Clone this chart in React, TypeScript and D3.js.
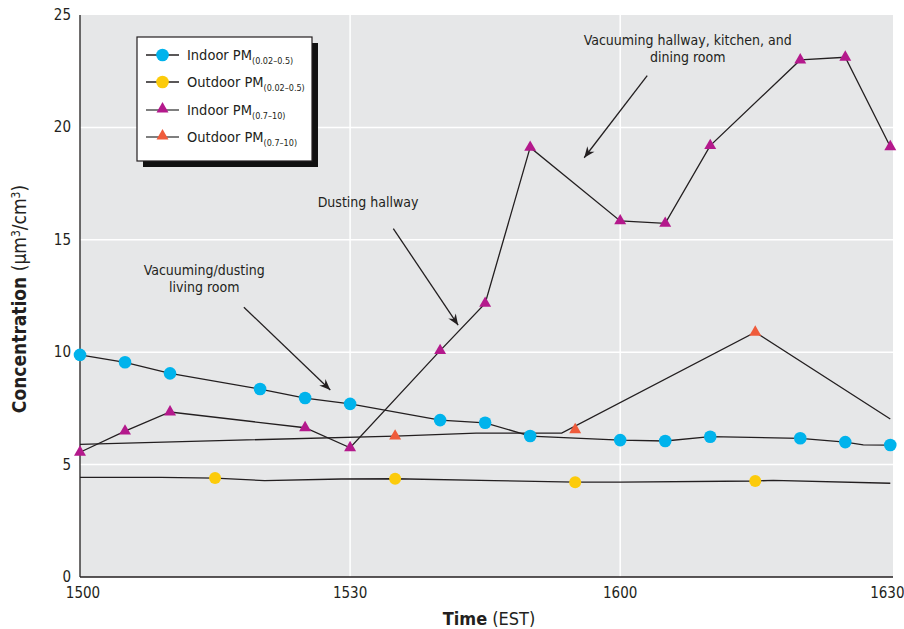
import React from 'react';
import * as d3 from 'd3';

// ---- Data ----
const xTickValues = [0, 30, 60, 90];
const xTickLabels = ['1500', '1530', '1600', '1630'];
const yTickValues = [0, 5, 10, 15, 20, 25];
const xGridValues = [30, 60];
const yGridValues = [5, 10, 15, 20];

// Indoor PM (0.02-0.5) — blue circles
const inFineMarkT = [0, 5, 10, 20, 25, 30, 40, 45, 50, 60, 65, 70, 80, 85, 90];
const inFineMarkV = [9.88, 9.55, 9.06, 8.36, 7.96, 7.7, 6.98, 6.86, 6.27, 6.09, 6.05, 6.24, 6.17, 6.0, 5.87];
const inFineLineT = [0, 5, 10, 20, 25, 30, 40, 45, 50, 60, 65, 70, 80, 85, 87, 90];
const inFineLineV = [9.88, 9.55, 9.06, 8.36, 7.96, 7.7, 6.98, 6.86, 6.27, 6.09, 6.05, 6.24, 6.17, 6.0, 5.88, 5.87];

// Outdoor PM (0.02-0.5) — yellow circles
const outFineMarkT = [15, 35, 55, 75];
const outFineMarkV = [4.4, 4.37, 4.22, 4.27];
const outFineLineT = [0, 9, 15, 20.5, 29, 35, 46, 55, 60, 75, 77, 90];
const outFineLineV = [4.43, 4.43, 4.4, 4.29, 4.36, 4.37, 4.29, 4.22, 4.22, 4.27, 4.3, 4.17];

// Indoor PM (0.7-10) — magenta triangles
const inCoarseT = [0, 5, 10, 25, 30, 40, 45, 50, 60, 65, 70, 80, 85, 90];
const inCoarseV = [5.55, 6.49, 7.34, 6.64, 5.75, 10.07, 12.17, 19.11, 15.84, 15.73, 19.19, 23.0, 23.12, 19.14];

// Outdoor PM (0.7-10) — orange triangles
const outCoarseMarkT = [35, 55, 75];
const outCoarseMarkV = [6.27, 6.55, 10.89];
const outCoarseLineT = [0, 35, 44, 53.5, 75, 90];
const outCoarseLineV = [5.9, 6.27, 6.4, 6.4, 10.89, 7.03];

const legendLabels = ['Indoor PM', 'Outdoor PM', 'Indoor PM', 'Outdoor PM'];
const legendSubs = ['(0.02\u20130.5)', '(0.02\u20130.5)', '(0.7\u201310)', '(0.7\u201310)'];

const annotations = [
  { lines: ['Vacuuming hallway, kitchen, and', 'dining room'], t: 67.5, v: 23.65, from: [63, 22.3], to: [56, 18.65] },
  { lines: ['Dusting hallway'], t: 32, v: 16.45, from: [34.8, 15.5], to: [42, 11.2] },
  { lines: ['Vacuuming/dusting', 'living room'], t: 13.8, v: 13.45, from: [18.2, 12.0], to: [27.8, 8.32] },
];

// ---- Style ----
const W = 904;
const H = 629;
const BLUE = '#00b3ec';
const YELLOW = '#fccb0b';
const MAGENTA = '#b4198c';
const ORANGE = '#ef5b3b';
const BG = '#e6e7e8';
const INK = '#231f20';
const FONT = "'Liberation Sans Narrow', 'Arial Narrow', 'DejaVu Sans Condensed', 'Liberation Sans', sans-serif";

export default function App() {
  const x = d3.scaleLinear().domain([0, 90.3]).range([80, 893]);
  const y = d3.scaleLinear().domain([0, 25]).range([577, 15]);

  const line = d3
    .line<[number, number]>()
    .x((d) => x(d[0]))
    .y((d) => y(d[1]));

  const zip = (ts: number[], vs: number[]) => ts.map((t, i) => [t, vs[i]] as [number, number]);

  const tri = d3.symbol().type(d3.symbolTriangle).size(62)() as string;

  const legendY = [55, 82, 110, 137];
  const legendColors = [BLUE, YELLOW, MAGENTA, ORANGE];
  const legendShapes = ['circle', 'circle', 'tri', 'tri'];

  return (
    <svg width={W} height={H} style={{ position: 'absolute', left: 0, top: 0, background: '#fff' }} fontFamily={FONT}>
      <defs>
        <marker id="arrow" viewBox="-12 -6 14 12" refX={0} refY={0} markerWidth={14} markerHeight={12} markerUnits="userSpaceOnUse" orient="auto">
          <path d="M0,0 L-11,-4.5 L-7.5,0 L-11,4.5 Z" fill={INK} />
        </marker>
      </defs>
      {/* plot background */}
      <rect x={x(0)} y={y(25)} width={x(90.3) - x(0)} height={y(0) - y(25)} fill={BG} />
      {/* grid */}
      {yGridValues.map((v) => (
        <line key={'gy' + v} x1={x(0)} x2={x(90.3)} y1={y(v)} y2={y(v)} stroke="#fff" strokeWidth={1.5} />
      ))}
      {xGridValues.map((t) => (
        <line key={'gx' + t} x1={x(t)} x2={x(t)} y1={y(25)} y2={y(0)} stroke="#fff" strokeWidth={1.5} />
      ))}
      {/* axes */}
      <line x1={x(0)} x2={x(0)} y1={y(25)} y2={y(0)} stroke={INK} strokeWidth={1.3} />
      <line x1={x(0)} x2={x(90.3)} y1={y(0)} y2={y(0)} stroke={INK} strokeWidth={1.3} />
      {yTickValues.map((v) => (
        <text key={'yt' + v} x={71} y={y(v) + 5} textAnchor="end" fontSize={15} fill={INK}>
          {v}
        </text>
      ))}
      {xTickValues.map((t, i) => (
        <text key={'xt' + t} x={x(t) + (i === 0 ? 3 : i === 3 ? -3 : 0)} y={598} textAnchor="middle" fontSize={15} fill={INK}>
          {xTickLabels[i]}
        </text>
      ))}
      <text x={489} y={625} textAnchor="middle" fontSize={18} fill={INK}>
        <tspan fontWeight="bold">Time</tspan>
        <tspan> (EST)</tspan>
      </text>
      <text transform={`translate(26,${(y(0) + y(25)) / 2 + 3}) rotate(-90)`} textAnchor="middle" fontSize={19} fill={INK}>
        <tspan fontWeight="bold">Concentration</tspan>
        <tspan> (</tspan>
        <tspan>{'\u00b5'}m</tspan>
        <tspan fontSize={12} dy={-6}>3</tspan>
        <tspan dy={6}>/cm</tspan>
        <tspan fontSize={12} dy={-6}>3</tspan>
        <tspan dy={6}>)</tspan>
      </text>

      {/* series lines */}
      <path d={line(zip(outFineLineT, outFineLineV)) || ''} fill="none" stroke={INK} strokeWidth={1.3} />
      <path d={line(zip(outCoarseLineT, outCoarseLineV)) || ''} fill="none" stroke={INK} strokeWidth={1.3} />
      <path d={line(zip(inFineLineT, inFineLineV)) || ''} fill="none" stroke={INK} strokeWidth={1.3} />
      <path d={line(zip(inCoarseT, inCoarseV)) || ''} fill="none" stroke={INK} strokeWidth={1.3} />

      {/* markers */}
      {zip(outFineMarkT, outFineMarkV).map((d, i) => (
        <circle key={'of' + i} cx={x(d[0])} cy={y(d[1])} r={6} fill={YELLOW} />
      ))}
      {zip(inFineMarkT, inFineMarkV).map((d, i) => (
        <circle key={'if' + i} cx={x(d[0])} cy={y(d[1])} r={6.3} fill={BLUE} />
      ))}
      {zip(outCoarseMarkT, outCoarseMarkV).map((d, i) => (
        <path key={'oc' + i} d={tri} transform={`translate(${x(d[0])},${y(d[1])})`} fill={ORANGE} />
      ))}
      {zip(inCoarseT, inCoarseV).map((d, i) => (
        <path key={'ic' + i} d={tri} transform={`translate(${x(d[0])},${y(d[1])})`} fill={MAGENTA} />
      ))}

      {/* annotations */}
      {annotations.map((a, i) => (
        <g key={'an' + i}>
          <text x={x(a.t)} y={y(a.v)} textAnchor="middle" fontSize={14} fill={INK}>
            {a.lines.map((l, j) => (
              <tspan key={j} x={x(a.t)} dy={j === 0 ? 0 : 17}>
                {l}
              </tspan>
            ))}
          </text>
          <line
            x1={x(a.from[0])}
            y1={y(a.from[1])}
            x2={x(a.to[0])}
            y2={y(a.to[1])}
            stroke={INK}
            strokeWidth={1.3}
            markerEnd="url(#arrow)"
          />
        </g>
      ))}

      {/* legend */}
      <rect x={143} y={43} width={175} height={124} fill="#111" />
      <rect x={137} y={37} width={175} height={124} fill="#fff" stroke={INK} strokeWidth={1.2} />
      {legendLabels.map((lab, i) => (
        <g key={'lg' + i} transform={`translate(0,${legendY[i]})`}>
          <line x1={146} x2={179} y1={0} y2={0} stroke={legendShapes[i] === 'tri' ? '#555' : INK} strokeWidth={1.3} />
          {legendShapes[i] === 'circle' ? (
            <circle cx={162.5} cy={0} r={6.3} fill={legendColors[i]} />
          ) : (
            <path d={tri} transform="translate(162.5,-1)" fill={legendColors[i]} />
          )}
          <text x={187} y={5} fontSize={14.5} fill={INK}>
            {lab}
            <tspan fontSize={9} dy={4}>
              {legendSubs[i]}
            </tspan>
          </text>
        </g>
      ))}
    </svg>
  );
}
